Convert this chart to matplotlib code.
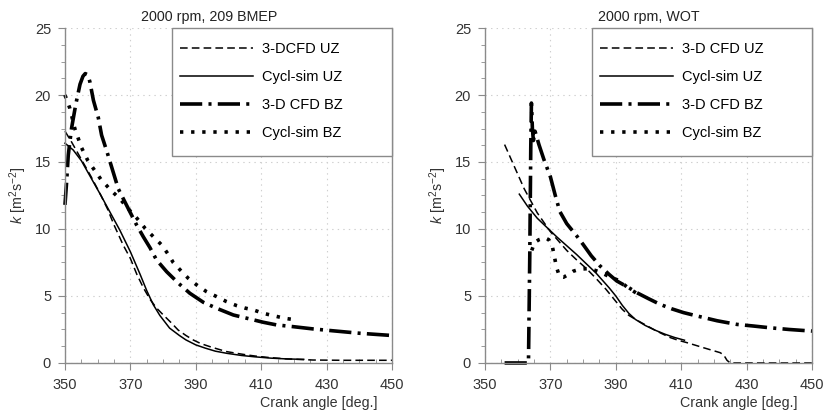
import matplotlib
matplotlib.use("Agg")
import matplotlib.pyplot as plt
from matplotlib.patches import Rectangle
from matplotlib.ticker import MultipleLocator

plt.rcParams["font.family"] = ["Liberation Sans", "DejaVu Sans"]
plt.rcParams["mathtext.fontset"] = "custom"
plt.rcParams["mathtext.rm"] = "Liberation Sans"
plt.rcParams["mathtext.it"] = "Liberation Sans:italic"
plt.rcParams["lines.scale_dashes"] = False

# --- left panel: 2000 rpm, 209 BMEP ---
left_cfd_uz_ang = [350, 352, 355, 358, 361, 363, 365, 367.8, 370, 372, 374, 376, 378, 380,
                   382.5, 384.6, 387, 389.2, 391.5, 394.3, 397, 399.4, 402.5, 405.6, 409,
                   412.7, 418, 425.9, 435, 450]
left_cfd_uz_k = [17.3, 16.5, 15.2, 13.9, 12.5, 11.5, 10.3, 8.8, 7.8, 6.6, 5.6, 4.75, 4.1, 3.6,
                 3.0, 2.46, 2.05, 1.72, 1.45, 1.22, 1.02, 0.85, 0.72, 0.6, 0.49,
                 0.4, 0.3, 0.22, 0.2, 0.2]

left_sim_uz_ang = [350, 352.5, 355, 358, 361, 363, 366.8, 370, 373, 375, 377, 379, 382, 385,
                   387, 390, 393, 396, 399.5, 404, 408, 413, 418, 423]
left_sim_uz_k = [16.4, 15.9, 15.1, 13.8, 12.5, 11.6, 9.9, 8.3, 6.6, 5.4, 4.35, 3.55, 2.6, 2.05,
                 1.72, 1.35, 1.1, 0.88, 0.72, 0.56, 0.46, 0.36, 0.3, 0.27]

left_cfd_bz_ang = [350, 350.5, 351, 352, 353.3, 354.6, 355.5, 356.2, 357, 357.6, 358.7, 360.2,
                   361.2, 362.8, 364.8, 366.3, 369.4, 371.9, 374, 376, 378, 381.1, 384.7,
                   388.2, 392.3, 396.4, 401.5, 406.6, 410.6, 414.7, 419.8, 425.9, 432, 440, 450]
left_cfd_bz_k = [11.8, 13.5, 15.5, 17.5, 19.3, 20.8, 21.4, 21.6, 21.5, 21.0, 19.6, 18.3,
                 17.0, 15.8, 14.2, 13.0, 11.5, 10.3, 9.4, 8.6, 7.69, 6.81, 5.95,
                 5.2, 4.53, 4.08, 3.58, 3.28, 3.04, 2.84, 2.71, 2.54, 2.4, 2.22, 2.05]

left_sim_bz_ang = [350, 351.5, 353, 355, 357, 359, 361, 364, 367, 369, 372, 374.5, 377, 379.6,
                   381.6, 383.1, 385.2, 387.7, 390.3, 393.3, 396.4, 399.4, 402.5, 405, 407.6,
                   410.6, 413.7, 417.3, 421]
left_sim_bz_k = [20.0, 19.0, 17.5, 16.1, 15.1, 14.4, 13.7, 12.9, 12.2, 11.6, 10.8, 10.05, 9.43,
                 8.8, 8.1, 7.5, 6.95, 6.32, 5.82, 5.32, 4.95, 4.58, 4.28, 4.1, 3.96,
                 3.71, 3.53, 3.33, 3.2]

# --- right panel: 2000 rpm, WOT ---
right_cfd_uz_ang = [356, 358, 360, 362, 364, 366, 368, 370, 372.5, 375, 378, 381, 384, 387, 390,
                    392, 394, 396.4, 399, 401.5, 404, 406.6, 409, 411.7, 414, 416.8, 419,
                    421.9, 423, 424, 425, 450]
right_cfd_uz_k = [16.3, 15.2, 14.1, 13.0, 12.1, 11.2, 10.5, 9.8, 9.1, 8.4, 7.7, 7.05, 6.3, 5.5, 4.6,
                  4.0, 3.55, 3.2, 2.85, 2.51, 2.2, 1.9, 1.7, 1.52, 1.35, 1.14, 0.98,
                  0.77, 0.6, 0.2, 0.0, 0.0]

right_sim_uz_ang = [360.5, 363, 366, 369, 372, 375, 378, 381, 384, 388, 390, 392, 394, 396, 399,
                    402, 405, 408, 411]
right_sim_uz_k = [12.6, 11.7, 10.8, 10.1, 9.4, 8.75, 8.1, 7.4, 6.7, 5.6, 5.0, 4.3, 3.7, 3.25, 2.8,
                  2.45, 2.15, 1.9, 1.7]

right_cfd_bz_ang = [356, 363.3, 363.7, 364.0, 364.2, 364.5, 364.8, 365.3, 366.5, 368, 370, 371.5,
                    372.9, 375, 378, 380, 382.5, 385.2, 388, 390.3, 393.9, 396.4, 400, 403.5,
                    407, 410.7, 414.8, 421, 427, 432, 437, 443, 450]
right_cfd_bz_k = [0.0, 0.0, 8.0, 16.0, 19.4, 17.5, 16.6, 17.3, 16.3, 15.2, 13.9, 12.5,
                  11.3, 10.4, 9.5, 8.85, 8.0, 7.24, 6.6, 6.12, 5.63, 5.25, 4.8, 4.38,
                  4.05, 3.76, 3.51, 3.15, 2.88, 2.76, 2.63, 2.5, 2.38]

right_sim_bz_ang = [364.3, 365.2, 366.5, 368.3, 369.5, 370.5, 371.2, 371.8, 372.8, 374, 375.5,
                    377, 379, 382, 385, 388, 391, 393.8, 396.4]
right_sim_bz_k = [8.4, 9.0, 9.2, 9.35, 9.2, 8.8, 8.0, 7.2, 6.45, 6.4, 6.6,
                  6.85, 7.0, 7.05, 6.8, 6.45, 6.15, 5.6, 5.2]

x_ticks = [350, 370, 390, 410, 430, 450]
y_ticks = [0, 5, 10, 15, 20, 25]
titles = ["2000 rpm, 209 BMEP", "2000 rpm, WOT"]
left_labels = ["3-DCFD UZ", "Cycl-sim UZ", "3-D CFD BZ", "Cycl-sim BZ"]
right_labels = ["3-D CFD UZ", "Cycl-sim UZ", "3-D CFD BZ", "Cycl-sim BZ"]

STYLES = [
    dict(color="black", lw=1.1, linestyle=(0, (5.5, 3.0))),
    dict(color="black", lw=1.1, linestyle="-"),
    dict(color="black", lw=2.6, linestyle=(0, (16, 4.5, 2.2, 4.5))),
    dict(color="black", lw=2.6, linestyle=(0, (2.4, 5.6))),
]
GRAY = "#8a8a8a"


def draw_panel(ax, curves, labels, title, title_x):
    handles = []
    for (ang, k), style, label in zip(curves, STYLES, labels):
        line, = ax.plot(ang, k, label=label, dash_capstyle="butt", clip_on=False, **style)
        handles.append(line)

    ax.set_xlim(350, 450)
    ax.set_ylim(0, 25)
    ax.set_xticks(x_ticks)
    ax.set_yticks(y_ticks)
    ax.xaxis.set_minor_locator(MultipleLocator(5))
    ax.yaxis.set_minor_locator(MultipleLocator(1.25))
    ax.grid(True, which="major", color="#cfcfcf", linestyle=(0, (1, 3)), lw=0.8)
    ax.set_axisbelow(True)

    ax.spines["top"].set_visible(False)
    for side in ("left", "bottom", "right"):
        ax.spines[side].set_color(GRAY)
        ax.spines[side].set_linewidth(1.0)
    ax.tick_params(which="major", direction="out", length=5, color=GRAY,
                   labelsize=10.5, labelcolor="#333333")
    ax.tick_params(axis="x", which="major", pad=6)
    ax.tick_params(axis="y", which="major", pad=5)
    ax.tick_params(axis="x", which="minor", direction="in", length=3, color=GRAY)
    ax.tick_params(axis="y", which="minor", direction="out", length=3, color=GRAY)

    ax.set_title(title, fontsize=10.3, color="#222222", pad=5, x=title_x)
    ax.set_ylabel(r"$k$ [m$^2$s$^{-2}$]", fontsize=10.3, color="#333333", labelpad=4)
    ax.set_xlabel("Crank angle [deg.]", fontsize=10.3, color="#333333",
                  ha="right", x=0.957, labelpad=3)

    # legend box attached to the top-right corner
    ax.add_patch(Rectangle((0.327, 0.618), 0.673, 0.382, transform=ax.transAxes,
                           facecolor="white", edgecolor=GRAY, lw=1.0, zorder=4,
                           clip_on=False))
    leg = ax.legend(handles=handles, loc="upper left", bbox_to_anchor=(0.335, 0.975),
                    frameon=False, fontsize=10.5, handlelength=5.0, handletextpad=0.6,
                    labelspacing=0.95, borderpad=0.4, borderaxespad=0)
    leg.set_zorder(5)


fig = plt.figure(figsize=(8.33, 4.12), dpi=100)
ax_left = fig.add_axes([0.078, 0.119, 0.3926, 0.813])
ax_right = fig.add_axes([0.5822, 0.119, 0.3926, 0.813])

draw_panel(ax_left,
           [(left_cfd_uz_ang, left_cfd_uz_k), (left_sim_uz_ang, left_sim_uz_k),
            (left_cfd_bz_ang, left_cfd_bz_k), (left_sim_bz_ang, left_sim_bz_k)],
           left_labels, titles[0], 0.44)
draw_panel(ax_right,
           [(right_cfd_uz_ang, right_cfd_uz_k), (right_sim_uz_ang, right_sim_uz_k),
            (right_cfd_bz_ang, right_cfd_bz_k), (right_sim_bz_ang, right_sim_bz_k)],
           right_labels, titles[1], 0.5)

fig.savefig("out.png", dpi=100)
